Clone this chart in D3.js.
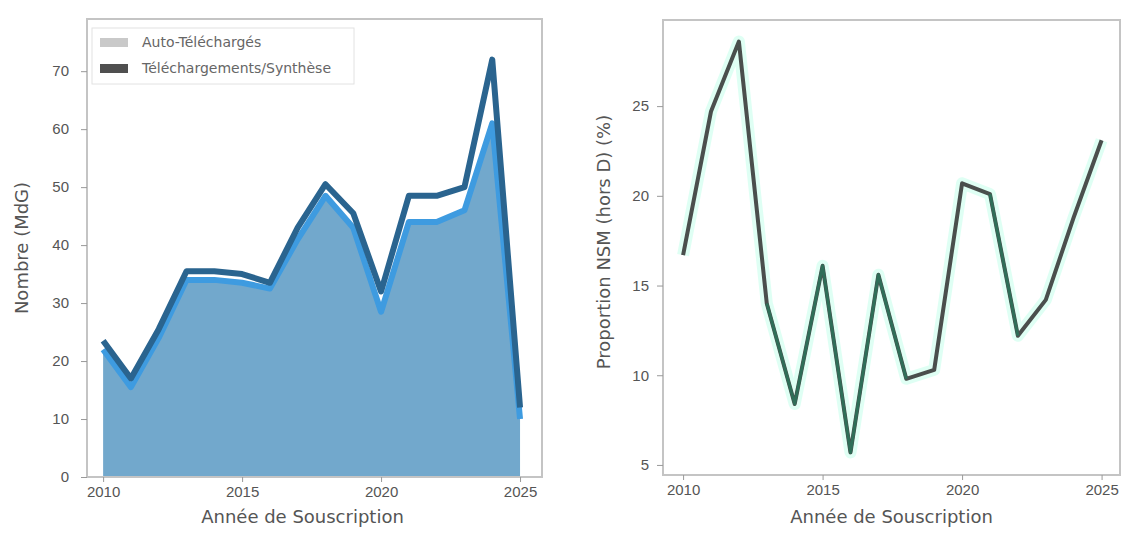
<!DOCTYPE html>
<html>
<head>
<meta charset="utf-8">
<script src="https://cdn.jsdelivr.net/npm/d3@7"></script>
<style>
  body { margin: 0; background: #fff; }
  svg { font-family: "DejaVu Sans", sans-serif; }
  .tick text { fill: #555; }
</style>
</head>
<body>
<div id="chart"></div>
<script>
// data
const years = [2010, 2011, 2012, 2013, 2014, 2015, 2016, 2017, 2018, 2019, 2020, 2021, 2022, 2023, 2024, 2025];
// left panel : filled area and the line drawn over it
const autoCounts = [22, 15.5, 24, 34, 34, 33.5, 32.5, 41, 48.5, 43, 28.5, 44, 44, 46, 61, 10];
const teleCounts = [23.5, 17, 25.5, 35.5, 35.5, 35, 33.5, 43, 50.5, 45.5, 32, 48.5, 48.5, 50, 72, 12];
// right panel : proportion (%)
const proportion = [16.7, 24.7, 28.6, 14.0, 8.4, 16.1, 5.7, 15.6, 9.8, 10.3, 20.7, 20.1, 12.2, 14.2, 18.8, 23.1];

const leftTicksY = [0, 10, 20, 30, 40, 50, 60, 70];
const rightTicksY = [5, 10, 15, 20, 25];
const ticksX = [2010, 2015, 2020, 2025];
const legendLabels = ["Auto-Téléchargés", "Téléchargements/Synthèse"];

const W = 1128, H = 534;
const svg = d3.select("#chart").append("svg")
    .attr("width", W)
    .attr("height", H);

// panel boxes (in page pixels)
const leftBox = {x0: 87, x1: 542, y0: 19, y1: 477};
const rightBox = {x0: 663, x1: 1120, y0: 20, y1: 475};

function drawFrame(b) {
    svg.append("rect")
        .attr("x", b.x0).attr("y", b.y0)
        .attr("width", b.x1 - b.x0).attr("height", b.y1 - b.y0)
        .attr("fill", "none")
        .attr("stroke", "#c4c4c4")
        .attr("stroke-width", 2);
}

function styleAxis(g) {
    g.select(".domain").remove();
    g.selectAll(".tick line").attr("stroke", "#999");
    g.selectAll(".tick text").style("font-size", "15px");
}

// ---------- left panel ----------
const xL = d3.scaleLinear().domain([2009.42, 2025.79]).range([leftBox.x0, leftBox.x1]);
const yL = d3.scaleLinear().domain([0, 79]).range([leftBox.y1, leftBox.y0]);

const area = d3.area()
    .x((d, i) => xL(years[i]))
    .y0(yL(0))
    .y1(d => yL(d));

svg.append("path")
    .datum(autoCounts)
    .attr("d", area)
    .attr("fill", "#72a8cc");

// light blue edge of the area
svg.append("path")
    .datum(autoCounts)
    .attr("d", d3.line().x((d, i) => xL(years[i])).y(d => yL(d)))
    .attr("fill", "none")
    .attr("stroke", "#3e9be0")
    .attr("stroke-width", 6)
    .attr("stroke-linejoin", "round");

// dark line
svg.append("path")
    .datum(teleCounts)
    .attr("d", d3.line().x((d, i) => xL(years[i])).y(d => yL(d)))
    .attr("fill", "none")
    .attr("stroke", "#2a648f")
    .attr("stroke-width", 6)
    .attr("stroke-linejoin", "round");

drawFrame(leftBox);

svg.append("g")
    .attr("transform", "translate(0," + leftBox.y1 + ")")
    .call(d3.axisBottom(xL).tickValues(ticksX).tickFormat(d3.format("d")).tickSize(5).tickPadding(4))
    .call(styleAxis);

svg.append("g")
    .attr("transform", "translate(" + leftBox.x0 + ",0)")
    .call(d3.axisLeft(yL).tickValues(leftTicksY).tickSize(6).tickPadding(12))
    .call(styleAxis);

svg.append("text")
    .attr("x", (leftBox.x0 + leftBox.x1) / 2 - 12)
    .attr("y", 523)
    .attr("text-anchor", "middle")
    .style("font-size", "18px")
    .attr("fill", "#555")
    .text("Année de Souscription");

svg.append("text")
    .attr("transform", "translate(28," + ((leftBox.y0 + leftBox.y1) / 2) + ") rotate(-90)")
    .attr("text-anchor", "middle")
    .style("font-size", "18px")
    .attr("fill", "#555")
    .text("Nombre (MdG)");

// legend
const legend = svg.append("g").attr("transform", "translate(92,28)");
legend.append("rect")
    .attr("width", 262).attr("height", 56)
    .attr("fill", "#fff").attr("fill-opacity", 0.8)
    .attr("stroke", "#e2e2e2");
const legendColors = ["#c9c9c9", "#4f4f4f"];
legendLabels.forEach((lab, i) => {
    legend.append("rect")
        .attr("x", 8).attr("y", 10 + i * 26)
        .attr("width", 28).attr("height", 9)
        .attr("fill", legendColors[i]);
    legend.append("text")
        .attr("x", 50).attr("y", 19 + i * 26)
        .style("font-size", "14px")
        .attr("fill", "#666")
        .text(lab);
});

// ---------- right panel ----------
const xR = d3.scaleLinear().domain([2009.28, 2025.66]).range([rightBox.x0, rightBox.x1]);
const yR = d3.scaleLinear().domain([4.44, 29.8]).range([rightBox.y1, rightBox.y0]);

const lineR = d3.line().x((d, i) => xR(years[i])).y(d => yR(d));

// soft aquamarine halo under the line
svg.append("path")
    .datum(proportion)
    .attr("d", lineR)
    .attr("fill", "none")
    .attr("stroke", "#7fffd4")
    .attr("stroke-opacity", 0.25)
    .attr("stroke-width", 12)
    .attr("stroke-linejoin", "round");

svg.append("path")
    .datum(proportion)
    .attr("d", lineR)
    .attr("fill", "none")
    .attr("stroke", "#4a4f4d")
    .attr("stroke-width", 4)
    .attr("stroke-linejoin", "round");

// greener segments
const greenSegs = [[3, 8], [11, 12]];
greenSegs.forEach(s => {
    const idx = d3.range(s[0], s[1] + 1);
    svg.append("path")
        .datum(idx)
        .attr("d", d3.line().x(i => xR(years[i])).y(i => yR(proportion[i])))
        .attr("fill", "none")
        .attr("stroke", "#2f6e58")
        .attr("stroke-width", 3)
        .attr("stroke-linejoin", "round");
});

drawFrame(rightBox);

svg.append("g")
    .attr("transform", "translate(0," + rightBox.y1 + ")")
    .call(d3.axisBottom(xR).tickValues(ticksX).tickFormat(d3.format("d")).tickSize(5).tickPadding(4))
    .call(styleAxis);

svg.append("g")
    .attr("transform", "translate(" + rightBox.x0 + ",0)")
    .call(d3.axisLeft(yR).tickValues(rightTicksY).tickSize(6).tickPadding(8))
    .call(styleAxis);

svg.append("text")
    .attr("x", (rightBox.x0 + rightBox.x1) / 2)
    .attr("y", 523)
    .attr("text-anchor", "middle")
    .style("font-size", "18px")
    .attr("fill", "#555")
    .text("Année de Souscription");

svg.append("text")
    .attr("transform", "translate(610,242) rotate(-90)")
    .attr("text-anchor", "middle")
    .style("font-size", "18px")
    .attr("fill", "#555")
    .text("Proportion NSM (hors D) (%)");
</script>
</body>
</html>
